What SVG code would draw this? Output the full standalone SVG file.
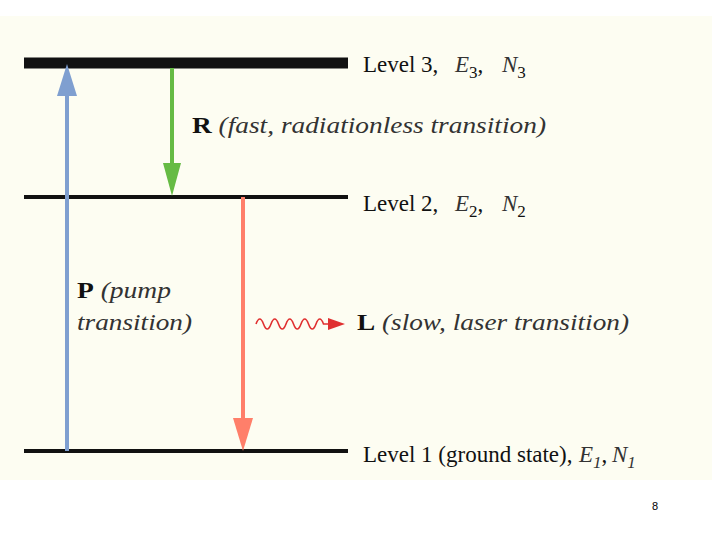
<svg xmlns="http://www.w3.org/2000/svg" width="720" height="540" viewBox="0 0 720 540">
<style>
.lbl{font-family:"Liberation Serif","Times New Roman",serif;font-size:23px;fill:#111}
.it{font-style:italic;fill:#333}
.b{font-weight:bold}
.sub{font-size:17px}
.lvl{stroke:#111;fill:none}
</style>
<rect x="0" y="0" width="720" height="540" fill="#ffffff"/>
<rect x="0" y="16" width="712" height="464" fill="#fdfdf2"/>
<g id="level3">
<line class="lvl" x1="24" y1="63" x2="348" y2="63" stroke-width="11"/>
<text class="lbl" x="363" y="72">Level 3,<tspan class="it" x="455">E</tspan><tspan class="sub" dy="6">3</tspan><tspan dy="-6">,</tspan><tspan class="it" x="502">N</tspan><tspan class="sub" dy="6">3</tspan></text>
</g>
<g id="level2">
<line class="lvl" x1="24" y1="197" x2="348" y2="197" stroke-width="4"/>
<text class="lbl" x="363" y="211">Level 2,<tspan class="it" x="455">E</tspan><tspan class="sub" dy="6">2</tspan><tspan dy="-6">,</tspan><tspan class="it" x="502">N</tspan><tspan class="sub" dy="6">2</tspan></text>
</g>
<g id="level1">
<line class="lvl" x1="24" y1="451" x2="348" y2="451" stroke-width="4"/>
<text class="lbl" x="363" y="462">Level 1 (ground state),<tspan class="it" x="579">E</tspan><tspan class="it sub" dy="6">1</tspan><tspan dy="-6">,</tspan><tspan class="it" x="612">N</tspan><tspan class="it sub" dy="6">1</tspan></text>
</g>
<g id="connectors">
<g id="pump">
<line x1="67" y1="451" x2="67" y2="90" stroke="#7f9fd0" stroke-width="4"/>
<path d="M67,64 L77,96 L57,96 Z" fill="#7f9fd0"/>
</g>
<g id="radiationless">
<line x1="172" y1="68" x2="172" y2="168" stroke="#66bb44" stroke-width="4"/>
<path d="M172,196 L181,163 L163,163 Z" fill="#66bb44"/>
</g>
<g id="laser">
<line x1="243" y1="197" x2="243" y2="422" stroke="#ff7f6a" stroke-width="4"/>
<path d="M243,451 L253,418 L233,418 Z" fill="#ff7f6a"/>
</g>
<g id="photon">
<path d="M256,324 q3.75,-10 7.5,0 t7.5,0 t7.5,0 t7.5,0 t7.5,0 t7.5,0 t7.5,0 t7.5,0 t7.5,0 L332,324" fill="none" stroke="#e03030" stroke-width="1.6"/>
<path d="M345,324 L328,318 L328,330 Z" fill="#e03030"/>
</g>
</g>
<g id="labelR"><text class="lbl" x="192" y="133" textLength="354" lengthAdjust="spacingAndGlyphs"><tspan class="b">R</tspan> <tspan class="it">(fast, radiationless transition)</tspan></text></g>
<g id="labelP"><text class="lbl" x="77" y="298" textLength="94" lengthAdjust="spacingAndGlyphs"><tspan class="b">P</tspan> <tspan class="it">(pump</tspan></text><text class="lbl it" x="77" y="330" textLength="115" lengthAdjust="spacingAndGlyphs">transition)</text></g>
<g id="labelL"><text class="lbl" x="357" y="330" textLength="272" lengthAdjust="spacingAndGlyphs"><tspan class="b">L</tspan> <tspan class="it">(slow, laser transition)</tspan></text></g>
<text x="655" y="510" text-anchor="middle" font-family="Liberation Sans, Arial, sans-serif" font-size="11" fill="#000">8</text>
</svg>
